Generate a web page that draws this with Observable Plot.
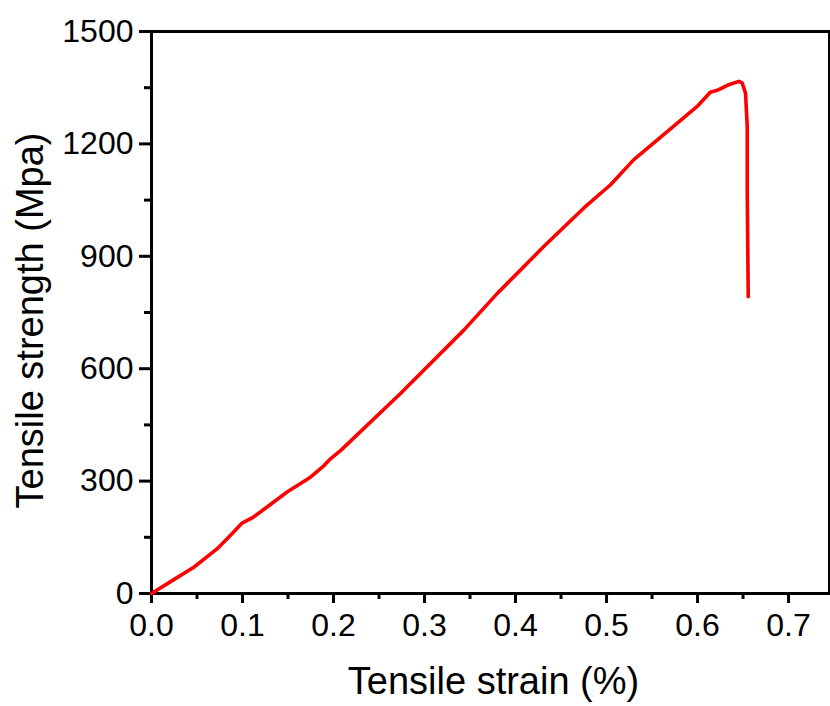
<!DOCTYPE html>
<html>
<head>
<meta charset="utf-8">
<script src="https://cdn.jsdelivr.net/npm/d3@7"></script>
<script src="https://cdn.jsdelivr.net/npm/@observablehq/plot@0.6"></script>
<style>
  html, body { margin: 0; padding: 0; background: #fff; }
  #chart { width: 830px; height: 706px; }
  svg { font-family: "Liberation Sans", Arial, sans-serif; }
</style>
</head>
<body>
<div id="chart"></div>
<script>
// Tensile strain (%) and tensile strength (MPa)
const strain = [0, 0.0245, 0.0465, 0.072, 0.0887, 0.0996, 0.112, 0.127, 0.149, 0.175, 0.189, 0.197, 0.208, 0.2736, 0.3432, 0.380, 0.431, 0.4751, 0.5044, 0.530, 0.5667, 0.5996, 0.614, 0.6216, 0.6344, 0.6454, 0.649, 0.6527, 0.6546, 0.6546, 0.6557];
const stress = [0, 37, 70, 119, 160, 188, 204, 231, 271, 311, 340, 360, 382, 534, 703, 801, 926, 1029, 1091, 1158, 1233, 1300, 1338, 1343, 1358, 1367, 1363, 1336, 1247, 1069, 792];

const xMajor = [0, 0.1, 0.2, 0.3, 0.4, 0.5, 0.6, 0.7];
const xMinor = [0.05, 0.15, 0.25, 0.35, 0.45, 0.55, 0.65];
const yMajor = [0, 300, 600, 900, 1200, 1500];
const yMinor = [150, 450, 750, 1050, 1350];

const xTitle = "Tensile strain (%)";
const yTitle = "Tensile strength (Mpa)";

const data = strain.map((s, i) => ({strain: s, stress: stress[i]}));

const font = "'Liberation Sans', Arial, sans-serif";

const chart = Plot.plot({
  width: 830,
  height: 706,
  marginLeft: 151,
  marginRight: 1,
  marginTop: 31,
  marginBottom: 113,
  style: {fontFamily: font, background: "#fff", color: "#000"},
  x: {domain: [0, 0.745]},
  y: {domain: [0, 1500]},
  marks: [
    Plot.axisX({ticks: xMinor, tickSize: 6, strokeWidth: 3, tickFormat: () => "", label: null}),
    Plot.axisX({ticks: xMajor, tickSize: 10, strokeWidth: 3, tickPadding: 10, fontSize: 32, tickFormat: d3.format(".1f"), label: null}),
    Plot.axisY({ticks: yMinor, tickSize: 7, strokeWidth: 3, tickFormat: () => "", label: null}),
    Plot.axisY({ticks: yMajor, tickSize: 12, strokeWidth: 3, tickPadding: 6, fontSize: 32, tickFormat: d => String(d), label: null}),
    Plot.frame({stroke: "#000", strokeWidth: 3}),
    Plot.line(data, {x: "strain", y: "stress", stroke: "#ff0000", strokeWidth: 3.6, strokeLinejoin: "round", strokeLinecap: "round"}),
    Plot.text([xTitle], {frameAnchor: "bottom", textAnchor: "middle", lineAnchor: "bottom", dy: 100, dx: 3, fontSize: 38, fill: "#000"}),
    Plot.text([yTitle], {frameAnchor: "left", textAnchor: "middle", lineAnchor: "bottom", rotate: -90, dx: -109, dy: 8, fontSize: 38, fill: "#000"})
  ]
});

document.getElementById("chart").appendChild(chart);
</script>
</body>
</html>
